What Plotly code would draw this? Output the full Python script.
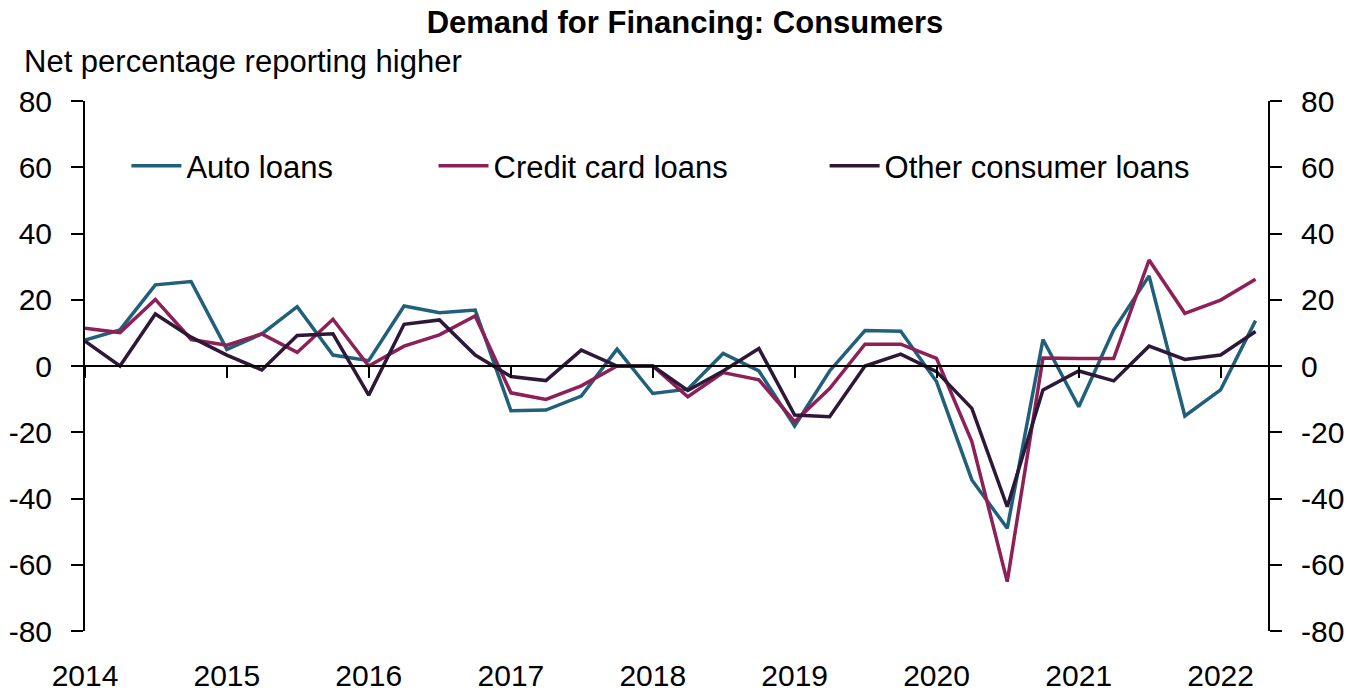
import pandas as pd
import plotly.graph_objects as go

# quarterly survey dates, 2014 Q1 - 2022 Q2
quarters = pd.date_range("2014-01-01", periods=34, freq="QS")
year_ticks = [str(y) for y in range(2014, 2023)]
y_ticks = [-80, -60, -40, -20, 0, 20, 40, 60, 80]

auto_loans = [7.8, 10.9, 24.5, 25.5, 5.0, 9.7, 17.9, 3.3, 1.6, 18.1, 16.1, 16.9,
              -13.5, -13.3, -9.1, 5.1, -8.3, -7.0, 3.8, -1.5, -18.1, -1.5, 10.7, 10.5,
              -4.7, -34.4, -49.0, 8.0, -12.3, 10.9, 27.2, -15.1, -7.2, 13.7]
credit_card_loans = [11.4, 10.1, 20.1, 8.0, 6.3, 9.7, 4.1, 14.1, 0.0, 6.0, 9.4, 15.1,
                     -8.1, -10.1, -6.0, 0.0, 0.0, -9.3, -2.0, -4.2, -16.8, -6.8, 6.6, 6.6,
                     2.3, -22.8, -65.1, 2.4, 2.3, 2.3, 32.0, 15.9, 19.9, 26.2]
other_consumer_loans = [7.5, 0.0, 15.7, 8.7, 3.3, -1.2, 9.2, 9.7, -8.8, 12.6, 13.9, 3.3,
                        -3.2, -4.4, 4.8, 0.0, 0.0, -7.4, -1.5, 5.3, -14.8, -15.3, 0.0, 3.6,
                        -1.7, -12.8, -42.5, -7.2, -1.5, -4.5, 6.0, 2.0, 3.3, 10.4]

FONT = "Liberation Sans, Arial, sans-serif"
# name, values, colour, legend id, legend x, axes
series = [
    ("Auto loans", auto_loans, "#20607a", "legend", 0.035, ("x", "y")),
    ("Credit card loans", credit_card_loans, "#8c2057", "legend2", 0.2946, ("x", "y")),
    ("Other consumer loans", other_consumer_loans, "#2d1838", "legend3", 0.6252, ("x2", "y2")),
]

fig = go.Figure()
for name, values, color, legend_id, _, (xa, ya) in series:
    fig.add_trace(go.Scatter(x=quarters, y=values, mode="lines", name=name,
                             line=dict(color=color, width=3.5), legend=legend_id,
                             xaxis=xa, yaxis=ya))

legends = {}
for name, values, color, legend_id, lx, _ in series:
    legends[legend_id] = dict(x=lx, y=0.877, xanchor="left", yanchor="middle",
                              font=dict(family=FONT, size=31, color="black"),
                              bgcolor="rgba(0,0,0,0)", itemwidth=50)

tick_dates = [f"{y}-01-01" for y in year_ticks]
x_range = ["2014-01-01", "2022-05-03"]
y_style = dict(range=[-80, 80], tickvals=y_ticks, ticktext=[str(v) for v in y_ticks],
               ticks="outside", ticklen=12, tickwidth=2,
               tickcolor="black", showline=True, linewidth=2, linecolor="black",
               showgrid=False, zeroline=False, ticklabelstandoff=13, automargin=False,
               tickfont=dict(family=FONT, size=30, color="black"))

fig.update_layout(
    width=1354,
    height=692,
    title=dict(text="<b>Demand for Financing: Consumers</b>", x=685 / 1354, xanchor="center",
               y=0.968, yanchor="middle", font=dict(family=FONT, size=31, color="black")),
    showlegend=True,
    plot_bgcolor="white",
    paper_bgcolor="white",
    margin=dict(l=85, r=86, t=101, b=61),
    font=dict(family=FONT, color="black"),
    xaxis=dict(type="date", range=x_range, tickvals=tick_dates, ticktext=year_ticks,
               ticks="", showline=False, showgrid=False, zeroline=False, automargin=False,
               ticklabelstandoff=24, tickfont=dict(family=FONT, size=30, color="black")),
    # second x axis sits on the zero line and carries the year tick marks
    xaxis2=dict(type="date", range=x_range, overlaying="x", anchor="free", position=0.5,
                tickvals=tick_dates, ticks="outside", ticklen=11, tickwidth=2,
                tickcolor="black", showline=True, linewidth=2, linecolor="black",
                showticklabels=False, showgrid=False, zeroline=False, automargin=False),
    yaxis=y_style,
    yaxis2=dict(overlaying="y", side="right", anchor="x", **y_style),
    annotations=[dict(text="Net percentage reporting higher", xref="paper", yref="paper",
                      x=-63 / 1183, y=(631 - 62) / 530, xanchor="left", yanchor="middle",
                      showarrow=False, font=dict(family=FONT, size=31, color="black"))],
    **legends,
)

# drop the browser's default body margin so the figure sits flush in the window
fig.write_html("out.html", config={"displayModeBar": False},
               post_script="document.body.style.margin = '0px';")
